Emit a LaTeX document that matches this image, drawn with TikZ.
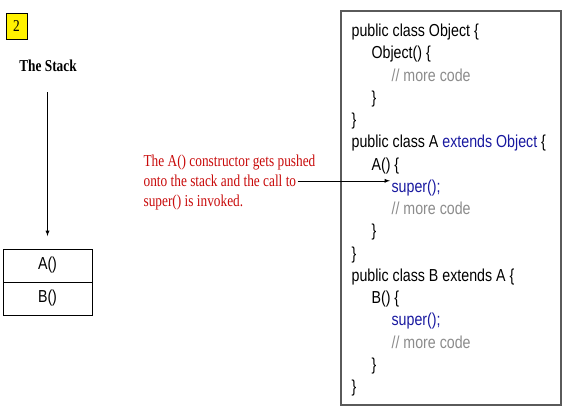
\documentclass[tikz,border=0pt]{standalone}
\usepackage{fontspec}
\setmainfont{Liberation Serif}[FakeStretch=0.8]
\newfontfamily\codefont{Liberation Sans}[FakeStretch=0.82]
\usetikzlibrary{positioning}

\definecolor{NOTE}{RGB}{200,10,10}
\definecolor{KW}{RGB}{25,25,160}
\definecolor{CMT}{RGB}{140,140,140}
\definecolor{BOX}{RGB}{90,90,90}

\newcommand\cmt{\textcolor{CMT}{// more code}}
\newcommand\kw[1]{\textcolor{KW}{#1}}

\begin{document}
\begin{tikzpicture}[x=0.75pt,y=-0.75pt,
	code/.style={anchor=base west,inner sep=1pt,font=\codefont\fontsize{13pt}{15pt}\selectfont},
	note/.style={anchor=base west,inner sep=1pt,text=NOTE,font=\fontsize{12.5pt}{15pt}\selectfont},
	frame/.style={draw,minimum width=66.75pt,minimum height=24.75pt,outer sep=0pt,font=\codefont\fontsize{13pt}{15pt}\selectfont}]
\useasboundingbox (0,0) rectangle (568,418);

% slide number
\node[draw,fill=yellow,minimum width=15.75pt,minimum height=19.5pt,inner sep=0pt,
	font=\fontsize{12.5pt}{15pt}\selectfont] (num) at (16.5,26) {2};

% the stack
\node[font=\bfseries\fontsize{12.5pt}{15pt}\selectfont] (title) at (48,66) {The Stack};
\node[frame] (stackA) at (47.5,265.5) {A()};
\node[frame,below=0pt of stackA] (stackB) {B()};
\coordinate (top) at (47.5,92);
\coordinate[above=9.75pt of stackA] (bot);
\draw[-latex] (top) -- (bot);

% explanation
\node[note] (note1) at (142,166.5) {The A() constructor gets pushed};
\node[note] (note2) at (142,186.5) {onto the stack and the call to};
\node[note] (note3) at (142,206.5) {super() is invoked.};

% source listing
\draw[BOX,line width=1pt] (341,11) rectangle (561,405);
\foreach \i/\ind/\txt in {
	0/0/{public class Object \{},
	1/1/{Object() \{},
	2/2/{\cmt},
	3/1/{\}},
	4/0/{\}},
	5/0/{public class A \kw{extends Object} \{},
	6/1/{A() \{},
	7/2/{\kw{super();}},
	8/2/{\cmt},
	9/1/{\}},
	10/0/{\}},
	11/0/{public class B extends A \{},
	12/1/{B() \{},
	13/2/{\kw{super();}},
	14/2/{\cmt},
	15/1/{\}},
	16/0/{\}}}{
	\node[code] (code\i) at (350+20*\ind,36.5+22.25*\i) {\txt};
}

\draw[-latex] (note2.east) -- (note2.east -| code7.west);

\end{tikzpicture}
\end{document}
